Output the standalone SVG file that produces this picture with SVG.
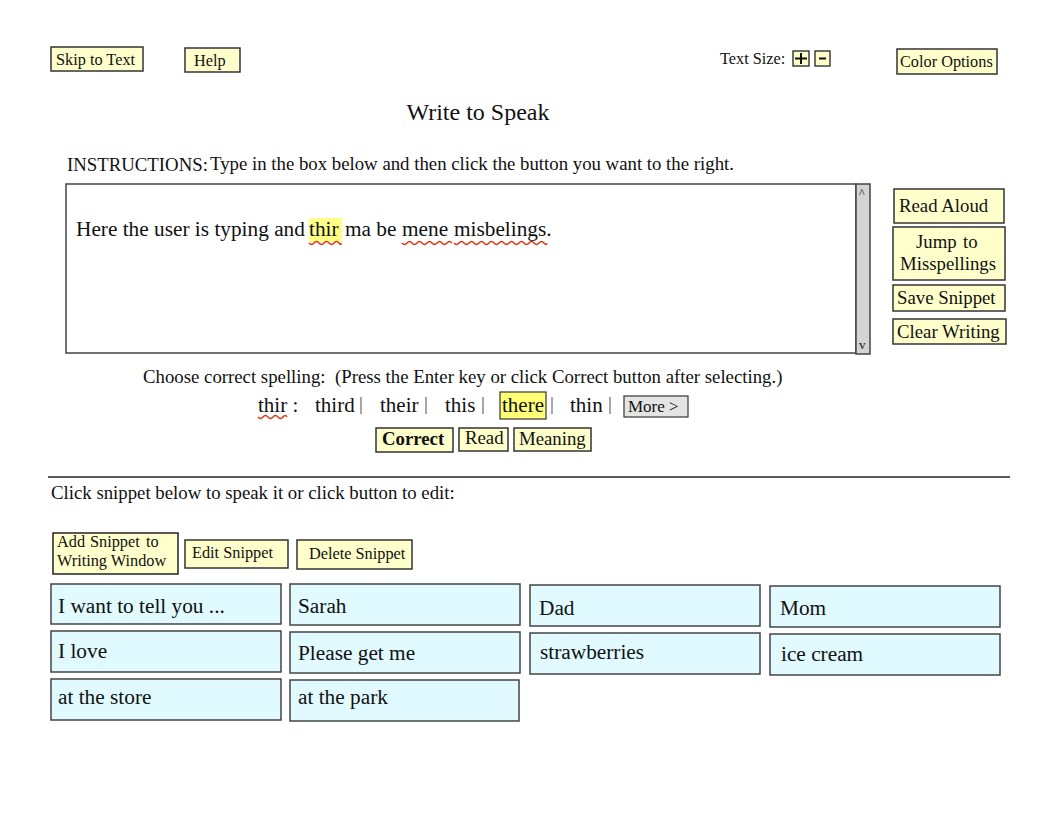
<svg xmlns="http://www.w3.org/2000/svg" width="1056" height="816" viewBox="0 0 1056 816">
<style>
text{font-family:"Liberation Serif","Times New Roman",serif;fill:#111}
.btn{fill:#ffffcc;stroke:#333;stroke-width:1.5}
.snip{fill:#e0faff;stroke:#444;stroke-width:1.5}
.t16{font-size:16.3px}
.t19{font-size:18.8px}
.t21{font-size:21.3px}
.t20{font-size:21px}
.wave{fill:none;stroke:#e03010;stroke-width:1.4}
.sep{stroke:#777;stroke-width:1.3}
</style>
<rect width="1056" height="816" fill="#fff"/>
<g id="skip"><rect class="btn" x="51" y="47" width="92" height="24"/><text class="t16" x="56" y="65">Skip to Text</text></g>
<g id="help"><rect class="btn" x="185" y="48" width="55" height="24"/><text class="t16" x="194" y="66">Help</text></g>
<g id="textsize"><text class="t16" x="720" y="64">Text Size:</text>
<rect x="793" y="51" width="16" height="15" fill="#ffffcc" stroke="#222" stroke-width="1.3"/><path d="M801 53v11M795 58.5h12" stroke="#111" stroke-width="2"/>
<rect x="815" y="51" width="15" height="15" fill="#ffffcc" stroke="#222" stroke-width="1.3"/><path d="M819 58.5h7" stroke="#111" stroke-width="2"/></g>
<g id="color"><rect class="btn" x="897" y="49" width="100" height="25"/><text class="t16" x="900" y="67">Color Options</text></g>
<text x="478" y="120" text-anchor="middle" style="font-size:24px">Write to Speak</text>
<text class="t19" x="67" y="171">INSTRUCTIONS:</text>
<text class="t19" x="210" y="170">Type in the box below and then click the button you want to the right.</text>
<g id="textarea">
<rect x="66" y="184" width="790" height="169" fill="#fff" stroke="#444" stroke-width="1.5"/>
<rect x="856" y="184" width="14" height="170" fill="#d3d3d3" stroke="#444" stroke-width="1.5"/>
<text x="859" y="197" style="font-size:12px">^</text>
<text x="859" y="349" style="font-size:13px">v</text>
<rect x="309" y="218" width="33" height="24" fill="#ffff88"/>
<text class="t21" y="236"><tspan x="76">Here the user is typing and</tspan><tspan x="309">thir</tspan><tspan x="345">ma be</tspan><tspan x="402">mene</tspan><tspan x="454">misbelings.</tspan></text>
<path class="wave" d="M309 243q2.5 3 5 0t5 0t5 0t5 0t5 0t5 0t2 0"/>
<path class="wave" d="M402 243q2.5 3 5 0t5 0t5 0t5 0t5 0t5 0t5 0t5 0t5 0t5 0"/>
<path class="wave" d="M454 243q2.5 3 5 0t5 0t5 0t5 0t5 0t5 0t5 0t5 0t5 0t5 0t5 0t5 0t5 0t5 0t5 0t5 0t5 0t5 0t3 0"/>
</g>
<g id="readaloud"><rect class="btn" x="894" y="189" width="110" height="34"/><text class="t19" x="899" y="212">Read Aloud</text></g>
<g id="jump"><rect class="btn" x="893" y="227" width="112" height="53"/><text class="t19" y="248"><tspan x="916">Jump</tspan><tspan x="963">to</tspan></text><text class="t19" x="948" y="270" text-anchor="middle">Misspellings</text></g>
<g id="save"><rect class="btn" x="893" y="285" width="112" height="26"/><text class="t19" x="897" y="304">Save Snippet</text></g>
<g id="clear"><rect class="btn" x="893" y="319" width="113" height="25"/><text class="t19" x="897" y="338">Clear Writing</text></g>
<text class="t19" y="383"><tspan x="143">Choose correct spelling:</tspan><tspan x="335">(Press the Enter key or click Correct button after selecting.)</tspan></text>
<g id="suggest">
<rect x="500" y="392" width="46" height="27" fill="#ffff77" stroke="#333" stroke-width="1.2"/>
<text class="t20" x="258" y="412">thir :</text>
<path class="wave" d="M258 417q2.5 3 5 0t5 0t5 0t5 0t5 0t4 0"/>
<text class="t20" x="315" y="412">third</text><path class="sep" d="M361 397v17"/>
<text class="t20" x="380" y="412">their</text><path class="sep" d="M426 397v17"/>
<text class="t20" x="445" y="412">this</text><path class="sep" d="M483 397v17"/>
<text class="t20" x="502" y="412">there</text><path class="sep" d="M552 397v17"/>
<text class="t20" x="570" y="412">thin</text><path class="sep" d="M610 397v17"/>
</g>
<g id="more"><rect x="624" y="396" width="64" height="21" fill="#e4e4e4" stroke="#444" stroke-width="1.3"/><text x="628" y="412" style="font-size:17px">More &gt;</text></g>
<g id="correct"><rect class="btn" x="376" y="428" width="77" height="24"/><text class="t19" x="382" y="445" font-weight="bold">Correct</text></g>
<g id="read"><rect class="btn" x="459" y="428" width="49" height="23"/><text class="t19" x="465" y="444">Read</text></g>
<g id="meaning"><rect class="btn" x="514" y="428" width="77" height="23"/><text class="t19" x="519" y="445">Meaning</text></g>
<path d="M48 477H1010" stroke="#222" stroke-width="1.3"/>
<text class="t19" x="51" y="499">Click snippet below to speak it or click button to edit:</text>
<g id="add"><rect x="53" y="533" width="125" height="41" fill="#ffffcc" stroke="#222" stroke-width="1.5"/><text class="t16" y="547"><tspan x="57">Add</tspan><tspan x="90">Snippet</tspan><tspan x="146">to</tspan></text><text class="t16" x="57" y="566">Writing Window</text></g>
<g id="edit"><rect class="btn" x="185" y="540" width="103" height="28"/><text class="t16" x="192" y="558">Edit Snippet</text></g>
<g id="delete"><rect class="btn" x="297" y="540" width="115" height="29"/><text class="t16" x="309" y="559">Delete Snippet</text></g>
<g id="s1"><rect class="snip" x="51" y="584" width="230" height="40"/><text class="t21" x="58" y="613">I want to tell you ...</text></g>
<g id="s2"><rect class="snip" x="290" y="584" width="230" height="41"/><text class="t21" x="298" y="613">Sarah</text></g>
<g id="s3"><rect class="snip" x="530" y="585" width="230" height="41"/><text class="t21" x="539" y="615">Dad</text></g>
<g id="s4"><rect class="snip" x="770" y="586" width="230" height="41"/><text class="t21" x="780" y="615">Mom</text></g>
<g id="s5"><rect class="snip" x="51" y="631" width="230" height="41"/><text class="t21" x="58" y="658">I love</text></g>
<g id="s6"><rect class="snip" x="290" y="632" width="230" height="41"/><text class="t21" x="298" y="660">Please get me</text></g>
<g id="s7"><rect class="snip" x="530" y="633" width="230" height="41"/><text class="t21" x="540" y="659">strawberries</text></g>
<g id="s8"><rect class="snip" x="770" y="634" width="230" height="41"/><text class="t21" x="781" y="661">ice cream</text></g>
<g id="s9"><rect class="snip" x="51" y="679" width="230" height="41"/><text class="t21" x="58" y="704">at the store</text></g>
<g id="s10"><rect class="snip" x="290" y="680" width="229" height="41"/><text class="t21" x="298" y="704">at the park</text></g>
</svg>
